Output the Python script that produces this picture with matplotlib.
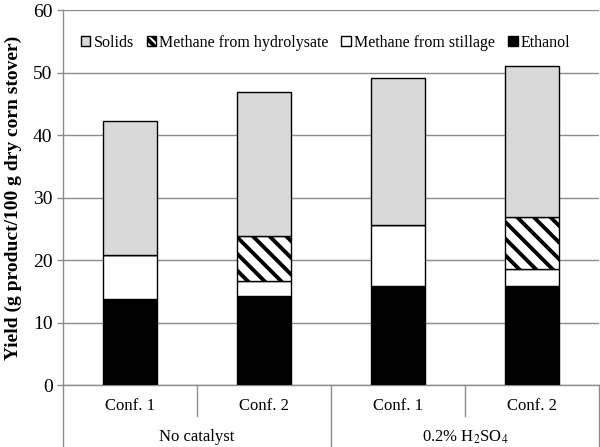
import numpy as np
import matplotlib
matplotlib.use('Agg')
import matplotlib.pyplot as plt
from matplotlib.patches import Patch
import matplotlib.transforms as mtransforms

# =============================================================================
# Data (g product / 100 g dry corn stover)
# =============================================================================
confs = ['Conf. 1', 'Conf. 2', 'Conf. 1', 'Conf. 2']
groups = ['No catalyst', r'0.2% H$_2$SO$_4$']
ethanol = [13.8, 14.2, 15.8, 15.9]
stillage = [7.0, 2.5, 9.8, 2.7]
hydrolysate = [0.0, 7.2, 0.0, 8.3]
solids = [21.4, 23.0, 23.6, 24.1]

plt.rcParams['font.family'] = 'Liberation Serif'
plt.rcParams['mathtext.fontset'] = 'stix'
plt.rcParams['hatch.linewidth'] = 2.8

fig = plt.figure(figsize=(6, 4.47), dpi=100)
ax = fig.add_axes([0.105, 0.1387, 0.893, 0.8389])

x = np.arange(len(confs))
w = 0.403
grid_c = '#8c8c8c'

b1 = np.array(ethanol)
b2 = b1 + np.array(stillage)
b3 = b2 + np.array(hydrolysate)

ax.bar(x, ethanol, w, color='black', edgecolor='black', linewidth=1, zorder=3)
ax.bar(x, stillage, w, bottom=b1, color='white', edgecolor='black', linewidth=1, zorder=3)
ax.bar(x, hydrolysate, w, bottom=b2, color='white', edgecolor='black', linewidth=1,
       hatch='\\\\', zorder=3)
ax.bar(x, solids, w, bottom=b3, color='#d9d9d9', edgecolor='black', linewidth=1, zorder=3)

ax.set_xlim(-0.5, 3.5)
ax.set_ylim(0, 60)
ax.set_yticks(np.arange(0, 61, 10))
ax.tick_params(axis='y', labelsize=14, color=grid_c, length=4, width=1)
ax.set_xticks([])
ax.yaxis.grid(True, color=grid_c, linewidth=1, zorder=0)
ax.set_axisbelow(True)
for s in ['top', 'right']:
    ax.spines[s].set_visible(False)
for s in ['left', 'bottom']:
    ax.spines[s].set_color(grid_c)
    ax.spines[s].set_linewidth(1)

ax.set_ylabel('Yield (g product/100 g dry corn stover)', fontsize=14,
              fontweight='bold', labelpad=8)

# =============================================================================
# Two-level category axis
# =============================================================================
trans = mtransforms.blended_transform_factory(ax.transData, ax.transAxes)
for xs in [0.5, 2.5]:
    ax.plot([xs, xs], [0, -0.082], transform=trans, color=grid_c, lw=1, clip_on=False)
for xs in [-0.5, 1.5, 3.5]:
    ax.plot([xs, xs], [0, -0.166], transform=trans, color=grid_c, lw=1, clip_on=False)
for i, lab in enumerate(confs):
    ax.text(x[i], -0.056, lab, transform=trans, ha='center', va='center', fontsize=12)
for i, lab in enumerate(groups):
    ax.text(2 * i + 0.5, -0.14, lab, transform=trans, ha='center', va='center', fontsize=12)

# =============================================================================
# Legend
# =============================================================================
handles = [Patch(facecolor='#d9d9d9', edgecolor='black', label='Solids'),
           Patch(facecolor='white', edgecolor='black', hatch='\\\\\\\\', label='Methane from hydrolysate'),
           Patch(facecolor='white', edgecolor='black', label='Methane from stillage'),
           Patch(facecolor='black', edgecolor='black', label='Ethanol')]
ax.legend(handles=handles, ncol=4, loc='center', bbox_to_anchor=(0.49, 0.912),
          frameon=False, fontsize=11.5, handlelength=0.6, handleheight=0.6,
          handletextpad=0.2, columnspacing=0.8, borderaxespad=0)

plt.savefig('out.png', dpi=100)
